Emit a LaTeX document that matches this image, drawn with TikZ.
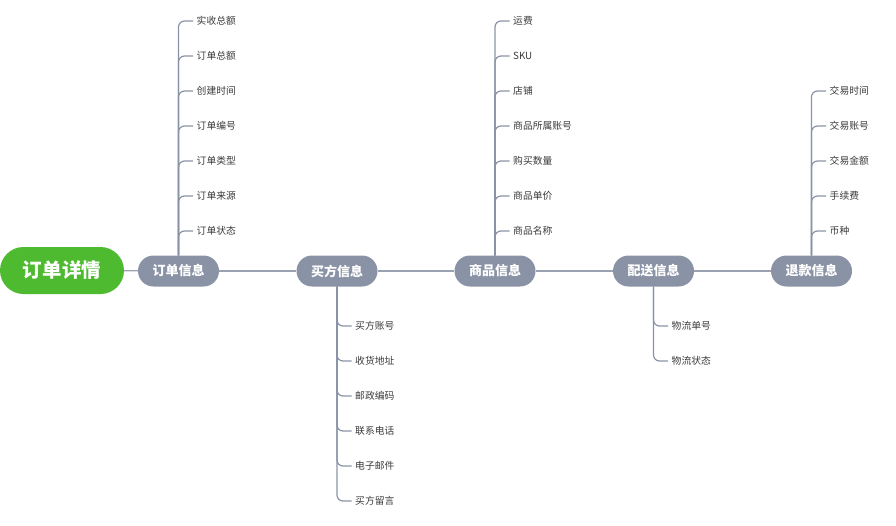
\documentclass[tikz,border=0pt]{standalone}
\usepackage{fontspec}
\setmainfont{Noto Sans CJK SC}
\definecolor{rootgreen}{HTML}{4DBA2F}
\definecolor{topicgray}{HTML}{8A93A6}
\definecolor{linegray}{HTML}{9AA2B1}
\definecolor{leaftext}{HTML}{3A3A3A}
\begin{document}
\begin{tikzpicture}[x=1pt,y=-1pt,
  rootbox/.style={fill=rootgreen, text=white, font=\fontsize{19.5}{22}\selectfont\bfseries,
    minimum width=124pt, minimum height=47pt, rounded corners=23.5pt, inner sep=0pt},
  topicbox/.style={fill=topicgray, text=white, font=\fontsize{13}{15}\selectfont\bfseries,
    minimum width=81pt, minimum height=31pt, rounded corners=15.5pt, inner sep=0pt},
  leafbox/.style={anchor=west, text=leaftext, font=\fontsize{9.8}{11}\selectfont,
    inner xsep=3.5pt, inner ysep=1pt},
  mainline/.style={draw=linegray, line width=1.3pt},
  branch/.style={draw=topicgray, line width=1.2pt, rounded corners=6pt}
]
\useasboundingbox (0,0) rectangle (896,525);
\node[rootbox] (root) at (62,270.5) {订单详情};
\node[topicbox] (t1) at (178.5,271) {订单信息};
\node[topicbox] (t2) at (337,271) {买方信息};
\node[topicbox] (t3) at (495,271) {商品信息};
\node[topicbox] (t4) at (653.5,271) {配送信息};
\node[topicbox] (t5) at (811.5,271) {退款信息};
\draw[mainline] (root) -- (t1);
\draw[mainline] (t1) -- (t2);
\draw[mainline] (t2) -- (t3);
\draw[mainline] (t3) -- (t4);
\draw[mainline] (t4) -- (t5);
% 订单信息
\foreach \i/\y/\txt in {1/21/实收总额,2/56/订单总额,3/91/创建时间,4/126/订单编号,5/161/订单类型,6/196/订单来源,7/231/订单状态}{
  \node[leafbox] (a\i) at (193,\y) {\txt};
  \draw[branch] (t1.north) |- (a\i.west);
}
% 商品信息
\foreach \i/\y/\txt in {1/21/运费,2/56/SKU,3/91/店铺,4/126/商品所属账号,5/161/购买数量,6/196/商品单价,7/231/商品名称}{
  \node[leafbox] (c\i) at (509.5,\y) {\txt};
  \draw[branch] (t3.north) |- (c\i.west);
}
% 退款信息
\foreach \i/\y/\txt in {1/91/交易时间,2/126/交易账号,3/161/交易金额,4/196/手续费,5/231/币种}{
  \node[leafbox] (e\i) at (826,\y) {\txt};
  \draw[branch] (t5.north) |- (e\i.west);
}
% 买方信息
\foreach \i/\y/\txt in {1/326/买方账号,2/361/收货地址,3/396/邮政编码,4/431/联系电话,5/466/电子邮件,6/501/买方留言}{
  \node[leafbox] (b\i) at (351.5,\y) {\txt};
  \draw[branch] (t2.south) |- (b\i.west);
}
% 配送信息
\foreach \i/\y/\txt in {1/326/物流单号,2/361/物流状态}{
  \node[leafbox] (d\i) at (668,\y) {\txt};
  \draw[branch] (t4.south) |- (d\i.west);
}
\end{tikzpicture}
\end{document}
